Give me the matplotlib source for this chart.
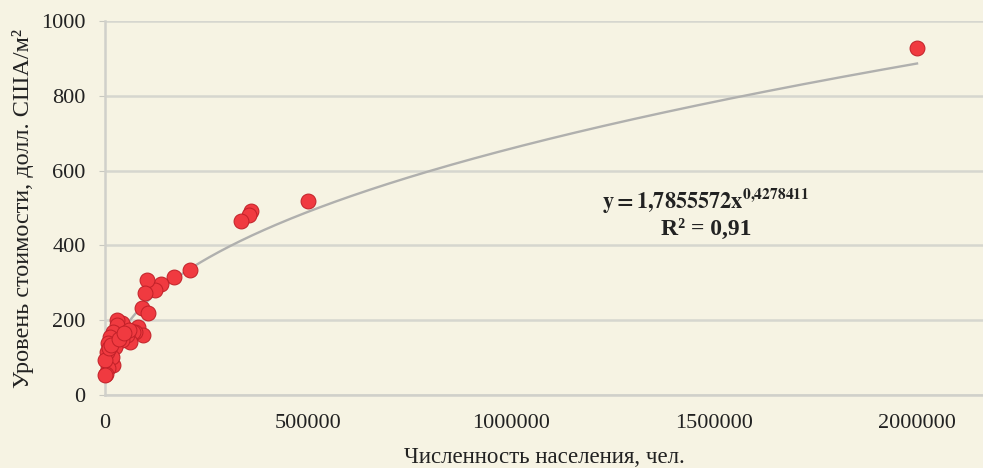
import numpy as np
import matplotlib.pyplot as plt

plt.rcParams['font.family'] = ['Liberation Serif', 'DejaVu Serif']
plt.rcParams['mathtext.fontset'] = 'stix'

# Города: численность населения (чел.) и уровень стоимости (долл. США/м²)
naselenie = [2000000, 500000, 360000, 355000, 335000, 209000, 170000, 138000,
             123000, 103000, 99000, 91000, 106000, 81000, 94000, 74000, 69000,
             62000, 54000, 50000, 42000, 42000, 30000, 30000, 25000, 20000,
             20000, 17000, 12000, 7000, 7000, 5000, 3000, 1000, 1000, 9000,
             14000, 35000, 58000, 46000]
stoimost = [928, 519, 492, 481, 465, 334, 316, 297,
            281, 307, 273, 233, 219, 182, 160, 168, 168,
            142, 160, 179, 147, 192, 200, 187, 128, 168,
            80, 102, 155, 139, 72, 115, 55, 94, 53, 125,
            135, 150, 175, 165]

# Степенная аппроксимация
koef_a = 1.7855572
koef_b = 0.4278411
r2 = 0.91

fon = '#f6f3e3'
fig = plt.figure(figsize=(9.83, 4.68), dpi=100, facecolor=fon)
ax = fig.add_axes([105 / 983, 73 / 468, 878 / 983, 374 / 468], facecolor=fon)

xs = np.linspace(1000, 2000000, 400)
ax.plot(xs, koef_a * xs ** koef_b, color='#b0b0ae', lw=1.7, zorder=2)

ax.scatter(naselenie, stoimost, s=115, color='#f03a40', edgecolors='#c02028',
           linewidths=0.7, zorder=3, clip_on=False)

ax.set_xlim(0, 2162500)
ax.set_ylim(0, 1000)
ax.set_xticks([0, 500000, 1000000, 1500000, 2000000])
ax.set_xticklabels(['0', '500000', '1000000', '1500000', '2000000'])
ax.set_yticks([0, 200, 400, 600, 800, 1000])

ax.grid(axis='y', color='#d6d6cf', lw=1.8)
ax.set_axisbelow(True)
for side in ['top', 'right']:
    ax.spines[side].set_visible(False)
for side in ['left', 'bottom']:
    ax.spines[side].set_color('#d0d0ca')
    ax.spines[side].set_linewidth(1.8)

ax.tick_params(axis='x', length=0, labelsize=16, pad=14, colors='#222222')
ax.tick_params(axis='y', length=4, color='#c8c8c0', labelsize=16, pad=10,
               colors='#222222')

ax.set_xlabel('Численность населения, чел.', fontsize=16.5, color='#222222',
              labelpad=10)
ax.set_ylabel('Уровень стоимости, долл. США/м²', fontsize=17.5,
              color='#222222', labelpad=5)

ax.text(1480000, 520, r'$\mathbf{y = 1{,}7855572x^{0{,}4278411}}$',
        fontsize=16, ha='center', va='center', color='#222222')
ax.text(1480000, 443, 'R² = 0,91', fontsize=17, fontweight='bold',
        ha='center', va='center', color='#222222')

fig.savefig('out.png', dpi=100, facecolor=fon)
